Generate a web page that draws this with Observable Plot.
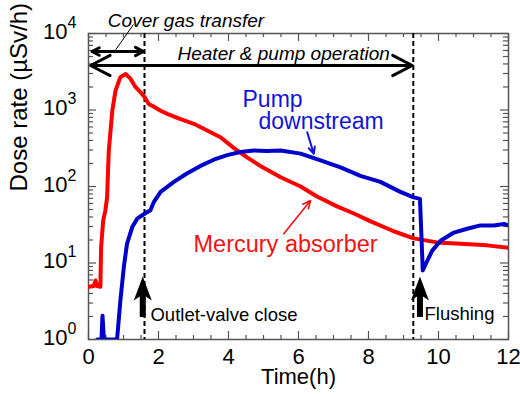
<!DOCTYPE html>
<html><head><meta charset="utf-8">
<script src="https://cdn.jsdelivr.net/npm/d3@7"></script>
<script src="https://cdn.jsdelivr.net/npm/@observablehq/plot@0.6"></script>
<style>body{margin:0;background:#fff} svg{display:block}</style>
</head><body><div id="chart"></div>
<script>
// Mercury absorber (red)
const redTime = [0.02,0.15,0.2,0.25,0.34,0.36,0.42,0.48,0.53,0.58,0.68,0.77,0.91,1.06,1.2,1.34,1.49,1.6,1.72,1.87,2.06,2.25,2.63,3.01,3.39,3.77,4.15,4.53,4.91,5.49,6.06,6.53,7.1,7.6,8.06,8.72,9.29,9.96,10.63,11.39,12];
const redDose = [4.9,5.0,5.9,5.0,4.9,16,36,48,71,295,977,1780,2690,2950,2570,2000,1700,1480,1200,1100,977,890,760,660,540,440,320,240,186,132,100,74,55,44,35,26,21,18.6,17.8,17,15.8];
// Pump downstream (blue)
const blueTime = [0.25,0.37,0.40,0.44,0.78,0.82,0.91,1.01,1.1,1.25,1.39,1.6,1.77,1.87,2.06,2.44,2.81,3.2,3.58,3.96,4.34,4.72,5.1,5.49,6.06,6.63,7.2,7.77,8.34,8.91,9.29,9.47,9.51,9.55,9.68,9.82,10.06,10.44,10.82,11.2,11.58,11.87,12];
const blueDose = [1,1,2.05,1,1,1.05,3.2,8.9,17.8,29.5,38,44,49,63,85,115,148,186,224,257,282,295,292,295,269,219,178,138,115,85,72,69,24,8,10.7,14.5,19.5,25,28,31,31,32.4,31];

// ticks
const xMajor = [0,2,4,6,8,10,12];
const xMinor = [0.5,1,1.5,2.5,3,3.5,4.5,5,5.5,6.5,7,7.5,8.5,9,9.5,10.5,11,11.5];
const yMajor = [1,10,100,1000,10000];
const yMinor = [2,3,4,5,6,7,8,9,20,30,40,50,60,70,80,90,200,300,400,500,600,700,800,900,2000,3000,4000,5000,6000,7000,8000,9000];

// event lines
const eventLines = [1.6, 9.28];

// annotations (data units)
const hArrows = [
  {x1: 0.8, x2: 0.1, y: 5820}, {x1: 0.8, x2: 1.57, y: 5820},
  {x1: 4.6, x2: 0.06, y: 3819}, {x1: 4.6, x2: 9.25, y: 3819}
];
const leader = [{x1: 1.286, y1: 13120, x2: 0.743, y2: 5820}];
const upArrows = [
  {x: 1.55, base: 1.94, neck: 4.1, tip: 6.66},
  {x: 9.47, base: 1.94, neck: 4.1, tip: 6.66}
];
const blackLabels = [
  {x: 1.771, y: 2.11, text: "Outlet-valve close"},
  {x: 9.6, y: 2.17, text: "Flushing"}
];
const coverLabel = [{x: 2.786, y: 14830, text: "Cover gas transfer"}];
const heaterLabel = [{x: 2.543, y: 5410, text: "Heater & pump operation"}];
const blueLabels = [
  {x: 4.4, y: 1387, text: "Pump"},
  {x: 4.857, y: 710, text: "downstream"}
];
const redLabels = [{x: 3.0, y: 17.4, text: "Mercury absorber"}];
const blueArrow = [{x1: 6.249, y1: 512, x2: 6.437, y2: 267}];
const redArrow = [{x1: 5.58, y1: 24.1, x2: 6.343, y2: 65.6}];

const red = redTime.map((t, i) => ({t, v: redDose[i]}));
const blue = blueTime.map((t, i) => ({t, v: blueDose[i]}));

const innerW = 420, innerH = 306;
const tickColor = "#555";
const upHead = {draw(ctx) { ctx.moveTo(0, 0); ctx.lineTo(9, 24); ctx.lineTo(0, 18); ctx.lineTo(-9, 24); ctx.closePath(); }};
const FONT = "Liberation Sans, Arial, sans-serif";

const chart = Plot.plot({
  width: 520, height: 394,
  marginLeft: 88, marginRight: 12, marginTop: 33, marginBottom: 55,
  x: {domain: [0, 12], axis: null},
  y: {type: "log", domain: [1, 10000], axis: null},
  style: {fontFamily: FONT, background: "white", color: "black"},
  marks: [
    // inward ticks, all four sides
    Plot.tickX(xMajor, {x: d => d, insetTop: innerH - 8, stroke: tickColor, strokeWidth: 1.2}),
    Plot.tickX(xMinor, {x: d => d, insetTop: innerH - 4, stroke: tickColor, strokeWidth: 1.2}),
    Plot.tickX(xMajor, {x: d => d, insetBottom: innerH - 8, stroke: tickColor, strokeWidth: 1.2}),
    Plot.tickX(xMinor, {x: d => d, insetBottom: innerH - 4, stroke: tickColor, strokeWidth: 1.2}),
    Plot.tickY(yMajor, {y: d => d, insetRight: innerW - 8, stroke: tickColor, strokeWidth: 1.2}),
    Plot.tickY(yMinor, {y: d => d, insetRight: innerW - 5, stroke: tickColor, strokeWidth: 1.2}),
    Plot.tickY(yMajor, {y: d => d, insetLeft: innerW - 8, stroke: tickColor, strokeWidth: 1.2}),
    Plot.tickY(yMinor, {y: d => d, insetLeft: innerW - 5, stroke: tickColor, strokeWidth: 1.2}),
    Plot.frame({stroke: tickColor, strokeWidth: 1.5}),
    // tick labels
    Plot.text(xMajor, {x: d => d, text: d => String(d), frameAnchor: "bottom", lineAnchor: "top", dy: 9, fontSize: 22}),
    Plot.text(yMajor, {y: d => d, text: () => "10", frameAnchor: "left", textAnchor: "end", dx: -21, dy: -2, fontSize: 22}),
    Plot.text(yMajor, {y: d => d, text: d => String(Math.round(Math.log10(d))), frameAnchor: "left", textAnchor: "start", dx: -21, dy: -11, fontSize: 16}),
    // axis titles
    Plot.text(["Time(h)"], {frameAnchor: "bottom", dy: 44, fontSize: 22}),
    Plot.text(["Dose rate (µSv/h)"], {frameAnchor: "left", rotate: -90, dx: -69, dy: 5, fontSize: 24}),
    // event lines
    Plot.ruleX(eventLines, {x: d => d, stroke: "black", strokeWidth: 2, strokeDasharray: "5,3"}),
    // data
    Plot.line(red, {x: "t", y: "v", stroke: "#ff0000", strokeWidth: 4, clip: true}),
    Plot.line(blue, {x: "t", y: "v", stroke: "#0000cc", strokeWidth: 4, clip: true}),
    // annotations
    Plot.arrow(hArrows, {x1: "x1", x2: "x2", y1: "y", y2: "y", stroke: "black", strokeWidth: 3, headLength: 11, headAngle: 55}),
    Plot.link(leader, {x1: "x1", y1: "y1", x2: "x2", y2: "y2", stroke: "black", strokeWidth: 1}),
    Plot.ruleX(upArrows, {x: "x", y1: "base", y2: "neck", stroke: "black", strokeWidth: 6}),
    Plot.dot(upArrows, {x: "x", y: "tip", symbol: upHead, fill: "black", stroke: null}),
    Plot.text(blackLabels, {x: "x", y: "y", text: "text", textAnchor: "start", fontSize: 18.5, fill: "black"}),
    Plot.text(coverLabel, {x: "x", y: "y", text: "text", textAnchor: "middle", fontSize: 19, fontStyle: "italic", fill: "black"}),
    Plot.text(heaterLabel, {x: "x", y: "y", text: "text", textAnchor: "start", fontSize: 19, fontStyle: "italic", fill: "black"}),
    Plot.text(blueLabels, {x: "x", y: "y", text: "text", textAnchor: "start", fontSize: 23, fill: "#1414d8"}),
    Plot.text(redLabels, {x: "x", y: "y", text: "text", textAnchor: "start", fontSize: 23.5, fill: "#f01414"}),
    Plot.arrow(blueArrow, {x1: "x1", y1: "y1", x2: "x2", y2: "y2", stroke: "#1414d8", strokeWidth: 2, headLength: 7, headAngle: 50}),
    Plot.arrow(redArrow, {x1: "x1", y1: "y1", x2: "x2", y2: "y2", stroke: "#f01414", strokeWidth: 1.6, headLength: 8, headAngle: 50})
  ]
});
document.getElementById("chart").appendChild(chart);
</script>
</body></html>
